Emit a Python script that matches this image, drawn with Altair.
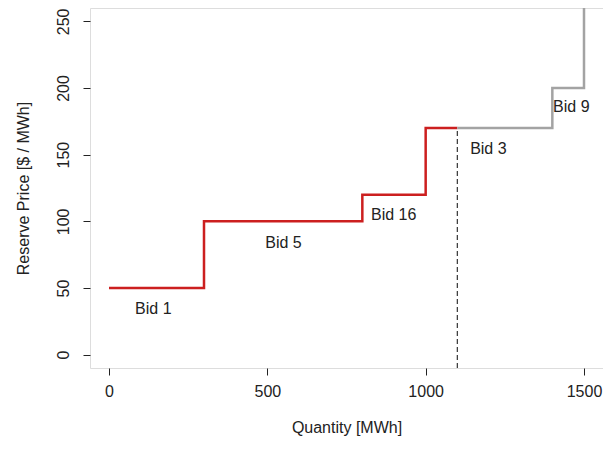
import altair as alt
import pandas as pd

# Step vertices (quantity breakpoints and price levels)
red_q = [0, 300, 800, 1000, 1100]
red_p = [50, 100, 120, 170, 170]
grey_q = [1100, 1400, 1500]
grey_p = [170, 200, 300]

cutoff_q = [1100]
cutoff_p = [170]

label_text = ["Bid 1", "Bid 5", "Bid 16", "Bid 3", "Bid 9"]
label_q = [140, 551, 899, 1198, 1460]
label_p = [34, 84, 105, 154, 186]

x_ticks = [0, 500, 1000, 1500]
y_ticks = [0, 50, 100, 150, 200, 250]

FONT = "Liberation Sans"

red_df = pd.DataFrame({"q": red_q, "p": red_p, "o": list(range(len(red_q)))})
grey_df = pd.DataFrame({"q": grey_q, "p": grey_p, "o": list(range(len(grey_q)))})
cut_df = pd.DataFrame({"q": cutoff_q, "p": cutoff_p, "p0": [-10]})
lab_df = pd.DataFrame({"t": label_text, "q": label_q, "p": label_p})

xs = alt.Scale(domain=[-60, 1560], nice=False, zero=False)
ys = alt.Scale(domain=[-10, 260], nice=False, zero=False)

xax = alt.Axis(values=x_ticks, format="d", title="Quantity [MWh]", grid=False, domain=False,
               tickColor="#222222", tickSize=7, labelFontSize=16, labelColor="#222222",
               labelFont=FONT, labelPadding=8, titleFont=FONT, titleFontSize=16,
               titleFontWeight="normal", titleColor="#222222", titlePadding=20)
yax = alt.Axis(values=y_ticks, format="d", title="Reserve Price [$ / MWh]", grid=False, domain=False,
               tickColor="#222222", tickSize=7, labelFontSize=16, labelColor="#222222",
               labelFont=FONT, labelAngle=270, labelAlign="center", labelBaseline="bottom",
               labelPadding=12, titleFont=FONT, titleFontSize=16, titleFontWeight="normal",
               titleColor="#222222", titlePadding=24)

red = alt.Chart(red_df).mark_line(interpolate="step-after", color="#cc1f1f",
                                   strokeWidth=2.5, clip=True).encode(
    x=alt.X("q:Q", scale=xs, axis=xax),
    y=alt.Y("p:Q", scale=ys, axis=yax),
    order="o:Q",
)
grey = alt.Chart(grey_df).mark_line(interpolate="step-after", color="#a3a3a3",
                                     strokeWidth=2.5, clip=True).encode(
    x=alt.X("q:Q", scale=xs),
    y=alt.Y("p:Q", scale=ys),
    order="o:Q",
)
cut = alt.Chart(cut_df).mark_rule(color="#333333", strokeDash=[5, 3], strokeWidth=1.2).encode(
    x=alt.X("q:Q", scale=xs),
    y=alt.Y("p0:Q", scale=ys),
    y2="p:Q",
)
labels = alt.Chart(lab_df).mark_text(font=FONT, fontSize=16, color="#222222").encode(
    x=alt.X("q:Q", scale=xs),
    y=alt.Y("p:Q", scale=ys),
    text="t:N",
)

chart = alt.layer(cut, red, grey, labels).properties(
    width=513, height=360,
    autosize=alt.AutoSizeParams(type="none"),
    padding={"left": 82, "top": 0, "right": 0, "bottom": 82},
).configure_view(stroke="#222222", strokeWidth=1.2).configure(background="white")

chart.save("out.html", embed_options={"renderer": "svg", "actions": False})
